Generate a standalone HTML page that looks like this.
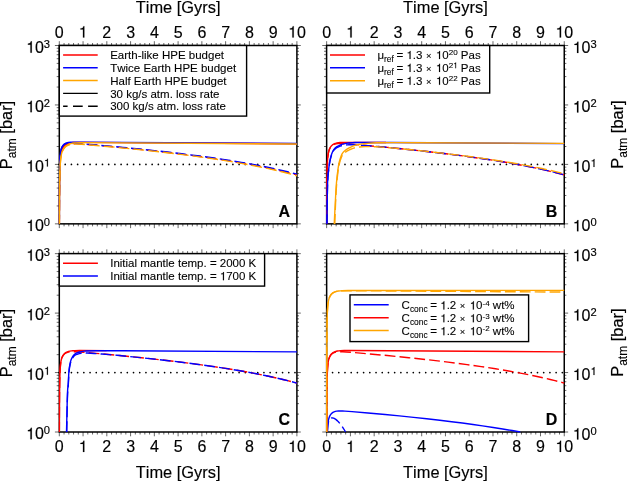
<!DOCTYPE html>
<html><head><meta charset="utf-8"><title>Atmospheric pressure evolution</title>
<style>html,body{margin:0;padding:0;background:#fff}body{width:628px;height:481px;overflow:hidden}svg text.lg{stroke-width:0.1px}svg text{white-space:pre;fill:#000;stroke:#000;stroke-width:0.15px;font-kerning:none;font-family:"Liberation Sans",sans-serif}</style>
</head><body>
<svg width="628" height="481" viewBox="0 0 628 481" style="display:block;will-change:transform">
<rect width="628" height="481" fill="#fff"/>
<path d="M64.05 45.5v-2.5 M64.05 223.85v2.5 M68.8 45.5v-2.5 M68.8 223.85v2.5 M73.56 45.5v-2.5 M73.56 223.85v2.5 M78.31 45.5v-2.5 M78.31 223.85v2.5 M87.81 45.5v-2.5 M87.81 223.85v2.5 M92.56 45.5v-2.5 M92.56 223.85v2.5 M97.32 45.5v-2.5 M97.32 223.85v2.5 M102.07 45.5v-2.5 M102.07 223.85v2.5 M111.57 45.5v-2.5 M111.57 223.85v2.5 M116.32 45.5v-2.5 M116.32 223.85v2.5 M121.08 45.5v-2.5 M121.08 223.85v2.5 M125.83 45.5v-2.5 M125.83 223.85v2.5 M135.33 45.5v-2.5 M135.33 223.85v2.5 M140.08 45.5v-2.5 M140.08 223.85v2.5 M144.84 45.5v-2.5 M144.84 223.85v2.5 M149.59 45.5v-2.5 M149.59 223.85v2.5 M159.09 45.5v-2.5 M159.09 223.85v2.5 M163.84 45.5v-2.5 M163.84 223.85v2.5 M168.6 45.5v-2.5 M168.6 223.85v2.5 M173.35 45.5v-2.5 M173.35 223.85v2.5 M182.85 45.5v-2.5 M182.85 223.85v2.5 M187.6 45.5v-2.5 M187.6 223.85v2.5 M192.36 45.5v-2.5 M192.36 223.85v2.5 M197.11 45.5v-2.5 M197.11 223.85v2.5 M206.61 45.5v-2.5 M206.61 223.85v2.5 M211.36 45.5v-2.5 M211.36 223.85v2.5 M216.12 45.5v-2.5 M216.12 223.85v2.5 M220.87 45.5v-2.5 M220.87 223.85v2.5 M230.37 45.5v-2.5 M230.37 223.85v2.5 M235.12 45.5v-2.5 M235.12 223.85v2.5 M239.88 45.5v-2.5 M239.88 223.85v2.5 M244.63 45.5v-2.5 M244.63 223.85v2.5 M254.13 45.5v-2.5 M254.13 223.85v2.5 M258.88 45.5v-2.5 M258.88 223.85v2.5 M263.64 45.5v-2.5 M263.64 223.85v2.5 M268.39 45.5v-2.5 M268.39 223.85v2.5 M277.89 45.5v-2.5 M277.89 223.85v2.5 M282.64 45.5v-2.5 M282.64 223.85v2.5 M287.4 45.5v-2.5 M287.4 223.85v2.5 M292.15 45.5v-2.5 M292.15 223.85v2.5 M59.3 205.95h-2.6 M296.9 205.95h2.1 M59.3 195.49h-2.6 M296.9 195.49h2.1 M59.3 188.06h-2.6 M296.9 188.06h2.1 M59.3 182.3h-2.6 M296.9 182.3h2.1 M59.3 177.59h-2.6 M296.9 177.59h2.1 M59.3 173.61h-2.6 M296.9 173.61h2.1 M59.3 170.16h-2.6 M296.9 170.16h2.1 M59.3 167.12h-2.6 M296.9 167.12h2.1 M59.3 146.5h-2.6 M296.9 146.5h2.1 M59.3 136.04h-2.6 M296.9 136.04h2.1 M59.3 128.61h-2.6 M296.9 128.61h2.1 M59.3 122.85h-2.6 M296.9 122.85h2.1 M59.3 118.14h-2.6 M296.9 118.14h2.1 M59.3 114.16h-2.6 M296.9 114.16h2.1 M59.3 110.71h-2.6 M296.9 110.71h2.1 M59.3 107.67h-2.6 M296.9 107.67h2.1 M59.3 87.05h-2.6 M296.9 87.05h2.1 M59.3 76.59h-2.6 M296.9 76.59h2.1 M59.3 69.16h-2.6 M296.9 69.16h2.1 M59.3 63.4h-2.6 M296.9 63.4h2.1 M59.3 58.69h-2.6 M296.9 58.69h2.1 M59.3 54.71h-2.6 M296.9 54.71h2.1 M59.3 51.26h-2.6 M296.9 51.26h2.1 M59.3 48.22h-2.6 M296.9 48.22h2.1" stroke="#000" stroke-width="0.6" fill="none"/>
<path d="M59.3 45.5v-4.3 M59.3 223.85v4.3 M83.06 45.5v-4.3 M83.06 223.85v4.3 M106.82 45.5v-4.3 M106.82 223.85v4.3 M130.58 45.5v-4.3 M130.58 223.85v4.3 M154.34 45.5v-4.3 M154.34 223.85v4.3 M178.1 45.5v-4.3 M178.1 223.85v4.3 M201.86 45.5v-4.3 M201.86 223.85v4.3 M225.62 45.5v-4.3 M225.62 223.85v4.3 M249.38 45.5v-4.3 M249.38 223.85v4.3 M273.14 45.5v-4.3 M273.14 223.85v4.3 M296.9 45.5v-4.3 M296.9 223.85v4.3 M59.3 223.85h-4.4 M296.9 223.85h3.9000000000000004 M59.3 164.4h-4.4 M296.9 164.4h3.9000000000000004 M59.3 104.95h-4.4 M296.9 104.95h3.9000000000000004 M59.3 45.5h-4.4 M296.9 45.5h3.9000000000000004" stroke="#000" stroke-width="0.6" fill="none"/>
<rect x="59.3" y="45.5" width="237.6" height="178.35" fill="none" stroke="#000" stroke-width="1.5"/>
<line x1="59" y1="164.4" x2="296.9" y2="164.4" stroke="#000" stroke-width="1.7" stroke-dasharray="0.01 6.2" stroke-linecap="round"/>
<clipPath id="clip00"><rect x="58.6" y="45.5" width="239.0" height="179.05"/></clipPath>
<g clip-path="url(#clip00)" fill="none" stroke-width="1.4" stroke-linejoin="round">
<path d="M59.35 223.85 L59.44 196.36 L59.63 177.7 L59.78 170.75 L59.97 164.9 L60.2 160.29 L60.54 156.31 L60.92 153.49 L61.39 151.22 L62.01 149.29 L62.39 148.4 L62.82 147.58 L63.29 146.83 L63.81 146.14 L64.38 145.52 L64.95 145 L65.57 144.54 L66.29 144.11 L67.05 143.74 L67.85 143.43 L68.95 143.11 L70.13 142.87 L71.42 142.69 L73.08 142.53 L76.88 142.38 L82.82 142.34 L296.9 143.73" stroke="#ff0000"/>
<path d="M59.35 223.85 L59.44 196.45 L59.54 184.89 L59.68 175.11 L59.82 169.13 L60.01 163.92 L60.25 159.72 L60.58 156.03 L61.01 153.14 L61.53 150.92 L61.87 149.91 L62.2 149.09 L62.63 148.23 L63.05 147.52 L63.58 146.8 L64.1 146.21 L64.72 145.65 L65.38 145.16 L66.1 144.75 L66.86 144.41 L67.66 144.14 L68.57 143.91 L70.37 143.66 L72.61 143.56 L75.46 143.61 L79.02 143.82 L85.44 144.31 L95.89 145.2 L119.89 147.4 L141.51 149.56 L161.71 151.75 L180.71 153.99 L199.72 156.45 L213.98 158.47 L228.23 160.65 L241.3 162.83 L254.37 165.2 L266.25 167.57 L276.94 169.91 L282.88 171.31 L287.63 172.48 L296.9 174.93" stroke="#ff0000" stroke-dasharray="10.8 4.1" stroke-dashoffset="1.74"/>
<path d="M59.33 223.85 L59.4 197.91 L59.59 173.82 L59.82 163.01 L60.01 158.5 L60.25 155.01 L60.54 152.4 L60.92 150.21 L61.44 148.33 L61.77 147.47 L62.1 146.77 L62.53 146.03 L62.96 145.42 L63.43 144.86 L63.96 144.35 L64.53 143.91 L65.1 143.55 L65.76 143.22 L66.48 142.95 L67.33 142.7 L68.33 142.5 L70.7 142.23 L73.79 142.11 L79.02 142.08 L296.9 143.5" stroke="#0000ff"/>
<path d="M59.33 223.85 L59.4 197.97 L59.59 173.89 L59.73 166.4 L59.87 161.76 L60.06 157.76 L60.3 154.6 L60.63 151.89 L61.01 149.97 L61.3 148.95 L61.58 148.15 L61.91 147.38 L62.29 146.68 L62.72 146.02 L63.2 145.44 L63.72 144.92 L64.24 144.5 L64.81 144.14 L65.48 143.82 L66.19 143.56 L67 143.36 L68.61 143.13 L70.66 143.06 L73.32 143.14 L76.88 143.37 L85.44 144.05 L98.74 145.19 L122.98 147.42 L143.89 149.5 L162.89 151.55 L181.9 153.78 L199.72 156.06 L213.98 158.04 L228.23 160.19 L241.3 162.33 L254.37 164.66 L266.25 166.98 L276.94 169.26 L287.63 171.76 L296.9 174.15" stroke="#0000ff" stroke-dasharray="10.8 4.1" stroke-dashoffset="1.31"/>
<path d="M59.36 223.85 L59.49 196.1 L59.73 178.43 L59.92 171.37 L60.16 165.82 L60.44 161.53 L60.82 157.85 L61.3 154.92 L61.58 153.64 L61.91 152.44 L62.29 151.32 L62.67 150.39 L63.1 149.51 L63.62 148.61 L64.19 147.78 L64.76 147.08 L65.43 146.4 L66.14 145.78 L66.9 145.24 L67.71 144.77 L68.61 144.34 L69.56 143.98 L70.89 143.6 L72.37 143.29 L74.03 143.05 L75.69 142.89 L80.21 142.68 L87.34 142.62 L296.9 143.97" stroke="#ffa500"/>
<path d="M59.36 223.85 L59.49 196.21 L59.63 183.76 L59.78 176.46 L59.97 170.19 L60.2 165.12 L60.49 161.15 L60.87 157.7 L61.11 156.16 L61.39 154.7 L61.72 153.36 L62.06 152.28 L62.44 151.27 L62.91 150.24 L63.39 149.38 L63.96 148.53 L64.57 147.77 L65.24 147.09 L65.95 146.49 L66.71 145.98 L67.52 145.54 L68.42 145.15 L69.42 144.82 L70.47 144.57 L72.61 144.27 L74.98 144.14 L77.83 144.16 L81.4 144.32 L86.39 144.67 L93.51 145.26 L115.37 147.25 L139.13 149.62 L160.52 151.95 L180.71 154.36 L199.72 156.85 L213.98 158.9 L228.23 161.12 L241.3 163.33 L254.37 165.76 L266.25 168.18 L276.94 170.58 L282.88 172.01 L287.63 173.22 L296.9 175.74" stroke="#ffa500" stroke-dasharray="10.8 4.1" stroke-dashoffset="2.01"/>
</g>
<rect x="59.3" y="45.5" width="187.3" height="70.6" fill="#fff" stroke="#000" stroke-width="1.4"/>
<line x1="63.1" y1="55" x2="97.7" y2="55" stroke="#ff0000" stroke-width="1.5"/>
<text x="110.20" y="59.14" font-size="11.5" xml:space="preserve" class="lg">Earth-like HPE budget</text>
<line x1="63.1" y1="67.8" x2="97.7" y2="67.8" stroke="#0000ff" stroke-width="1.5"/>
<text x="110.20" y="71.94" font-size="11.5" xml:space="preserve" class="lg">Twice Earth HPE budget</text>
<line x1="63.1" y1="80.6" x2="97.7" y2="80.6" stroke="#ffa500" stroke-width="1.5"/>
<text x="110.20" y="84.74" font-size="11.5" xml:space="preserve" class="lg">Half Earth HPE budget</text>
<line x1="63.1" y1="93.4" x2="97.7" y2="93.4" stroke="#000" stroke-width="1.15"/>
<text x="110.20" y="97.54" font-size="11.5" xml:space="preserve" class="lg">30 kg/s atm. loss rate</text>
<line x1="63.1" y1="106.2" x2="97.7" y2="106.2" stroke="#000" stroke-width="1.5" stroke-dasharray="9.7 5.4" stroke-dashoffset="5.2"/>
<text x="110.20" y="110.34" font-size="11.5" xml:space="preserve" class="lg">300 kg/s atm. loss rate</text>
<text x="54.85" y="37.50" font-size="16" xml:space="preserve">0</text>
<path d="M359 0V709H301C270 599 250 584 113 567V504H271V0Z" stroke="#000" stroke-width="9.4" transform="translate(78.61 37.50) scale(0.01600 -0.01600)"/>
<text x="102.37" y="37.50" font-size="16" xml:space="preserve">2</text>
<text x="126.13" y="37.50" font-size="16" xml:space="preserve">3</text>
<text x="149.89" y="37.50" font-size="16" xml:space="preserve">4</text>
<text x="173.65" y="37.50" font-size="16" xml:space="preserve">5</text>
<text x="197.41" y="37.50" font-size="16" xml:space="preserve">6</text>
<text x="221.17" y="37.50" font-size="16" xml:space="preserve">7</text>
<text x="244.93" y="37.50" font-size="16" xml:space="preserve">8</text>
<text x="268.69" y="37.50" font-size="16" xml:space="preserve">9</text>
<path d="M359 0V709H301C270 599 250 584 113 567V504H271V0Z" stroke="#000" stroke-width="9.4" transform="translate(288.00 37.50) scale(0.01600 -0.01600)"/>
<text x="296.90" y="37.50" font-size="16" xml:space="preserve">0</text>
<text x="178.1" y="12.5" font-size="16.4" text-anchor="middle">Time [Gyrs]</text>
<path d="M359 0V709H301C270 599 250 584 113 567V504H271V0Z" stroke="#000" stroke-width="9.4" transform="translate(26.07 231.05) scale(0.01600 -0.01600)"/>
<text x="34.97" y="231.05" font-size="16" xml:space="preserve">0</text>
<text x="43.87" y="226.05" font-size="11.2" xml:space="preserve">0</text>
<path d="M359 0V709H301C270 599 250 584 113 567V504H271V0Z" stroke="#000" stroke-width="9.4" transform="translate(26.07 171.60) scale(0.01600 -0.01600)"/>
<text x="34.97" y="171.60" font-size="16" xml:space="preserve">0</text>
<path d="M359 0V709H301C270 599 250 584 113 567V504H271V0Z" stroke="#000" stroke-width="13.4" transform="translate(43.87 166.60) scale(0.01120 -0.01120)"/>
<path d="M359 0V709H301C270 599 250 584 113 567V504H271V0Z" stroke="#000" stroke-width="9.4" transform="translate(26.07 112.15) scale(0.01600 -0.01600)"/>
<text x="34.97" y="112.15" font-size="16" xml:space="preserve">0</text>
<text x="43.87" y="107.15" font-size="11.2" xml:space="preserve">2</text>
<path d="M359 0V709H301C270 599 250 584 113 567V504H271V0Z" stroke="#000" stroke-width="9.4" transform="translate(26.07 52.70) scale(0.01600 -0.01600)"/>
<text x="34.97" y="52.70" font-size="16" xml:space="preserve">0</text>
<text x="43.87" y="47.70" font-size="11.2" xml:space="preserve">3</text>
<text transform="translate(11.6 134.98) rotate(-90)" font-size="16.4" text-anchor="middle">P<tspan font-size="12" dy="4">atm</tspan><tspan dy="-4"> [bar]</tspan></text>
<text x="278.5" y="217.1" font-size="16" font-weight="bold">A</text>
<path d="M331.4 45.5v-2.5 M331.4 223.85v2.5 M336.15 45.5v-2.5 M336.15 223.85v2.5 M340.91 45.5v-2.5 M340.91 223.85v2.5 M345.66 45.5v-2.5 M345.66 223.85v2.5 M355.16 45.5v-2.5 M355.16 223.85v2.5 M359.91 45.5v-2.5 M359.91 223.85v2.5 M364.67 45.5v-2.5 M364.67 223.85v2.5 M369.42 45.5v-2.5 M369.42 223.85v2.5 M378.92 45.5v-2.5 M378.92 223.85v2.5 M383.67 45.5v-2.5 M383.67 223.85v2.5 M388.43 45.5v-2.5 M388.43 223.85v2.5 M393.18 45.5v-2.5 M393.18 223.85v2.5 M402.68 45.5v-2.5 M402.68 223.85v2.5 M407.43 45.5v-2.5 M407.43 223.85v2.5 M412.19 45.5v-2.5 M412.19 223.85v2.5 M416.94 45.5v-2.5 M416.94 223.85v2.5 M426.44 45.5v-2.5 M426.44 223.85v2.5 M431.19 45.5v-2.5 M431.19 223.85v2.5 M435.95 45.5v-2.5 M435.95 223.85v2.5 M440.7 45.5v-2.5 M440.7 223.85v2.5 M450.2 45.5v-2.5 M450.2 223.85v2.5 M454.95 45.5v-2.5 M454.95 223.85v2.5 M459.71 45.5v-2.5 M459.71 223.85v2.5 M464.46 45.5v-2.5 M464.46 223.85v2.5 M473.96 45.5v-2.5 M473.96 223.85v2.5 M478.71 45.5v-2.5 M478.71 223.85v2.5 M483.47 45.5v-2.5 M483.47 223.85v2.5 M488.22 45.5v-2.5 M488.22 223.85v2.5 M497.72 45.5v-2.5 M497.72 223.85v2.5 M502.47 45.5v-2.5 M502.47 223.85v2.5 M507.23 45.5v-2.5 M507.23 223.85v2.5 M511.98 45.5v-2.5 M511.98 223.85v2.5 M521.48 45.5v-2.5 M521.48 223.85v2.5 M526.23 45.5v-2.5 M526.23 223.85v2.5 M530.99 45.5v-2.5 M530.99 223.85v2.5 M535.74 45.5v-2.5 M535.74 223.85v2.5 M545.24 45.5v-2.5 M545.24 223.85v2.5 M549.99 45.5v-2.5 M549.99 223.85v2.5 M554.75 45.5v-2.5 M554.75 223.85v2.5 M559.5 45.5v-2.5 M559.5 223.85v2.5 M326.65 205.95h-2.6 M564.25 205.95h2.1 M326.65 195.49h-2.6 M564.25 195.49h2.1 M326.65 188.06h-2.6 M564.25 188.06h2.1 M326.65 182.3h-2.6 M564.25 182.3h2.1 M326.65 177.59h-2.6 M564.25 177.59h2.1 M326.65 173.61h-2.6 M564.25 173.61h2.1 M326.65 170.16h-2.6 M564.25 170.16h2.1 M326.65 167.12h-2.6 M564.25 167.12h2.1 M326.65 146.5h-2.6 M564.25 146.5h2.1 M326.65 136.04h-2.6 M564.25 136.04h2.1 M326.65 128.61h-2.6 M564.25 128.61h2.1 M326.65 122.85h-2.6 M564.25 122.85h2.1 M326.65 118.14h-2.6 M564.25 118.14h2.1 M326.65 114.16h-2.6 M564.25 114.16h2.1 M326.65 110.71h-2.6 M564.25 110.71h2.1 M326.65 107.67h-2.6 M564.25 107.67h2.1 M326.65 87.05h-2.6 M564.25 87.05h2.1 M326.65 76.59h-2.6 M564.25 76.59h2.1 M326.65 69.16h-2.6 M564.25 69.16h2.1 M326.65 63.4h-2.6 M564.25 63.4h2.1 M326.65 58.69h-2.6 M564.25 58.69h2.1 M326.65 54.71h-2.6 M564.25 54.71h2.1 M326.65 51.26h-2.6 M564.25 51.26h2.1 M326.65 48.22h-2.6 M564.25 48.22h2.1" stroke="#000" stroke-width="0.6" fill="none"/>
<path d="M326.65 45.5v-4.3 M326.65 223.85v4.3 M350.41 45.5v-4.3 M350.41 223.85v4.3 M374.17 45.5v-4.3 M374.17 223.85v4.3 M397.93 45.5v-4.3 M397.93 223.85v4.3 M421.69 45.5v-4.3 M421.69 223.85v4.3 M445.45 45.5v-4.3 M445.45 223.85v4.3 M469.21 45.5v-4.3 M469.21 223.85v4.3 M492.97 45.5v-4.3 M492.97 223.85v4.3 M516.73 45.5v-4.3 M516.73 223.85v4.3 M540.49 45.5v-4.3 M540.49 223.85v4.3 M564.25 45.5v-4.3 M564.25 223.85v4.3 M326.65 223.85h-4.4 M564.25 223.85h3.9000000000000004 M326.65 164.4h-4.4 M564.25 164.4h3.9000000000000004 M326.65 104.95h-4.4 M564.25 104.95h3.9000000000000004 M326.65 45.5h-4.4 M564.25 45.5h3.9000000000000004" stroke="#000" stroke-width="0.6" fill="none"/>
<rect x="326.65" y="45.5" width="237.6" height="178.35" fill="none" stroke="#000" stroke-width="1.5"/>
<line x1="326.35" y1="164.4" x2="564.25" y2="164.4" stroke="#000" stroke-width="1.7" stroke-dasharray="0.01 6.2" stroke-linecap="round"/>
<clipPath id="clip10"><rect x="325.95" y="45.5" width="239.0" height="179.05"/></clipPath>
<g clip-path="url(#clip10)" fill="none" stroke-width="1.4" stroke-linejoin="round">
<path d="M326.7 223.85 L326.79 196.36 L326.94 180.89 L327.17 169.02 L327.46 161.89 L327.65 158.94 L327.89 156.31 L328.17 154.08 L328.55 152.01 L328.98 150.38 L329.45 149.05 L330.07 147.75 L330.78 146.63 L331.54 145.71 L332.4 144.93 L333.35 144.27 L334.4 143.74 L335.54 143.32 L336.87 142.99 L338.39 142.73 L340.19 142.55 L343.76 142.39 L349.22 142.34 L386.05 142.55" stroke="#ff0000"/>
<path d="M326.7 223.85 L326.79 196.45 L326.89 184.89 L327.03 175.11 L327.17 169.13 L327.36 163.92 L327.6 159.72 L327.93 156.03 L328.36 153.14 L328.88 150.92 L329.22 149.91 L329.55 149.09 L329.98 148.23 L330.4 147.52 L330.93 146.8 L331.45 146.21 L332.07 145.65 L332.73 145.16 L333.45 144.75 L334.21 144.41 L335.01 144.14 L335.92 143.91 L337.72 143.66 L339.96 143.56 L342.81 143.61 L346.37 143.82 L352.79 144.31 L363.24 145.2 L387.24 147.4 L408.86 149.56 L429.06 151.75 L448.06 153.99 L467.07 156.45 L481.33 158.47 L495.58 160.65 L508.65 162.83 L521.72 165.2 L533.6 167.57 L544.29 169.91 L550.23 171.31 L554.98 172.48 L564.25 174.93" stroke="#ff0000" stroke-dasharray="10.8 4.1" stroke-dashoffset="8.24"/>
<path d="M326.9 223.85 L327.36 192.45 L327.6 182.29 L327.89 177.29 L328.22 173.34 L329.07 165.99 L329.74 161.62 L330.55 157.89 L331.02 156.13 L331.5 154.6 L332.07 152.97 L332.59 151.69 L333.02 150.83 L333.68 149.78 L334.35 148.89 L335.01 148.14 L335.73 147.48 L336.49 146.91 L337.48 146.3 L339.01 145.53 L340.43 144.88 L341.62 144.42 L343.76 143.85 L346.13 143.37 L348.98 143.01 L352.31 142.69 L355.16 142.56 L368.23 142.47 L389.85 142.5 L564.25 143.65" stroke="#0000ff"/>
<path d="M326.91 223.85 L327.36 192.89 L327.6 182.69 L327.89 177.72 L328.27 173.34 L329.12 166.15 L329.5 163.54 L329.83 161.68 L330.26 159.67 L330.74 157.76 L331.26 155.98 L331.83 154.29 L332.35 152.93 L332.83 151.9 L333.3 151.1 L333.97 150.17 L334.63 149.38 L335.35 148.68 L336.06 148.13 L336.87 147.63 L338.05 147.05 L340.19 146.17 L341.38 145.77 L342.33 145.54 L344.71 145.13 L346.85 144.91 L350.65 144.75 L353.74 144.75 L355.4 144.82 L363.48 145.4 L376.78 146.47 L386.29 147.32 L396.74 148.33 L420.74 150.82 L442.12 153.27 L452.82 154.59 L462.32 155.82 L477.76 157.95 L492.02 160.09 L506.28 162.42 L519.34 164.76 L531.22 167.08 L537.16 168.33 L543.1 169.64 L549.04 171.02 L553.8 172.18 L558.55 173.4 L564.25 174.93" stroke="#0000ff" stroke-dasharray="10.8 4.1" stroke-dashoffset="1.27"/>
<path d="M334.22 223.85 L335.68 194.93 L336.06 188.43 L336.44 183.18 L337.15 175.86 L337.91 169.64 L338.53 165.69 L339.01 163.26 L339.48 161.2 L339.96 159.46 L340.43 157.97 L341.14 156.02 L341.62 154.87 L342.09 153.89 L342.57 153.1 L343.52 151.91 L344.23 151.21 L345.42 150.23 L346.61 149.37 L347.8 148.62 L349.22 147.82 L351.36 146.77 L352.79 146.13 L354.21 145.58 L356.11 145.02 L358.49 144.5 L360.86 144.11 L364.19 143.68 L367.52 143.36 L372.51 143.02 L376.31 142.81 L379.63 142.73 L395.55 142.67 L412.42 142.69 L564.25 143.37" stroke="#ffa500"/>
<path d="M334.78 223.85 L335.25 210.78 L335.68 200.48 L336.11 191.99 L336.49 186.25 L337.25 177.86 L338.01 171.38 L338.39 168.77 L338.77 166.56 L339.24 164.22 L339.72 162.26 L340.19 160.6 L340.67 159.16 L341.38 157.25 L341.86 156.17 L342.33 155.27 L342.81 154.58 L343.28 154 L343.99 153.27 L344.95 152.49 L346.13 151.64 L347.32 150.9 L348.51 150.27 L350.17 149.49 L352.31 148.59 L353.74 148.08 L355.16 147.69 L357.3 147.3 L359.44 147.02 L362.05 146.82 L365.14 146.67 L368.23 146.62 L373.22 146.67 L376.55 146.76 L379.4 146.92 L396.5 148.36 L413.61 150 L436.18 152.44 L456.38 154.84 L473.01 156.99 L488.46 159.17 L502.71 161.35 L516.97 163.74 L530.04 166.14 L541.92 168.54 L547.86 169.82 L553.8 171.18 L558.55 172.32 L564.25 173.75" stroke="#ffa500" stroke-dasharray="10.8 4.1" stroke-dashoffset="1.01"/>
</g>
<rect x="326.65" y="45.5" width="163.05" height="47.5" fill="#fff" stroke="#000" stroke-width="1.4"/>
<line x1="330" y1="54.9" x2="365" y2="54.9" stroke="#ff0000" stroke-width="1.5"/>
<text x="377.40" y="59.04" font-size="11.5" xml:space="preserve" class="lg">μ</text>
<text x="384.03" y="61.91" font-size="8.395" xml:space="preserve" class="lg">ref</text>
<text x="393.32" y="59.04" font-size="11.5" xml:space="preserve" class="lg"> = </text>
<path d="M359 0V709H301C270 599 250 584 113 567V504H271V0Z" stroke="#000" stroke-width="13.0" transform="translate(406.43 59.04) scale(0.01150 -0.01150)"/>
<text x="412.82" y="59.04" font-size="11.5" xml:space="preserve" class="lg">.3 </text>
<text x="425.91" y="59.04" font-size="9.43" xml:space="preserve" class="lg">×</text>
<path d="M359 0V709H301C270 599 250 584 113 567V504H271V0Z" stroke="#000" stroke-width="13.0" transform="translate(435.91 59.04) scale(0.01150 -0.01150)"/>
<text x="442.31" y="59.04" font-size="11.5" xml:space="preserve" class="lg">0</text>
<text x="448.70" y="55.24" font-size="8.05" xml:space="preserve" class="lg">20</text>
<text x="457.66" y="59.04" font-size="11.5" xml:space="preserve" class="lg"> Pas</text>
<line x1="330" y1="67.8" x2="365" y2="67.8" stroke="#0000ff" stroke-width="1.5"/>
<text x="377.40" y="71.94" font-size="11.5" xml:space="preserve" class="lg">μ</text>
<text x="384.03" y="74.81" font-size="8.395" xml:space="preserve" class="lg">ref</text>
<text x="393.32" y="71.94" font-size="11.5" xml:space="preserve" class="lg"> = </text>
<path d="M359 0V709H301C270 599 250 584 113 567V504H271V0Z" stroke="#000" stroke-width="13.0" transform="translate(406.43 71.94) scale(0.01150 -0.01150)"/>
<text x="412.82" y="71.94" font-size="11.5" xml:space="preserve" class="lg">.3 </text>
<text x="425.91" y="71.94" font-size="9.43" xml:space="preserve" class="lg">×</text>
<path d="M359 0V709H301C270 599 250 584 113 567V504H271V0Z" stroke="#000" stroke-width="13.0" transform="translate(435.91 71.94) scale(0.01150 -0.01150)"/>
<text x="442.31" y="71.94" font-size="11.5" xml:space="preserve" class="lg">0</text>
<text x="448.70" y="68.14" font-size="8.05" xml:space="preserve" class="lg">2</text>
<path d="M359 0V709H301C270 599 250 584 113 567V504H271V0Z" stroke="#000" stroke-width="18.6" transform="translate(453.18 68.14) scale(0.00805 -0.00805)"/>
<text x="457.66" y="71.94" font-size="11.5" xml:space="preserve" class="lg"> Pas</text>
<line x1="330" y1="80.7" x2="365" y2="80.7" stroke="#ffa500" stroke-width="1.5"/>
<text x="377.40" y="84.84" font-size="11.5" xml:space="preserve" class="lg">μ</text>
<text x="384.03" y="87.72" font-size="8.395" xml:space="preserve" class="lg">ref</text>
<text x="393.32" y="84.84" font-size="11.5" xml:space="preserve" class="lg"> = </text>
<path d="M359 0V709H301C270 599 250 584 113 567V504H271V0Z" stroke="#000" stroke-width="13.0" transform="translate(406.43 84.84) scale(0.01150 -0.01150)"/>
<text x="412.82" y="84.84" font-size="11.5" xml:space="preserve" class="lg">.3 </text>
<text x="425.91" y="84.84" font-size="9.43" xml:space="preserve" class="lg">×</text>
<path d="M359 0V709H301C270 599 250 584 113 567V504H271V0Z" stroke="#000" stroke-width="13.0" transform="translate(435.91 84.84) scale(0.01150 -0.01150)"/>
<text x="442.31" y="84.84" font-size="11.5" xml:space="preserve" class="lg">0</text>
<text x="448.70" y="81.05" font-size="8.05" xml:space="preserve" class="lg">22</text>
<text x="457.66" y="84.84" font-size="11.5" xml:space="preserve" class="lg"> Pas</text>
<text x="322.20" y="37.50" font-size="16" xml:space="preserve">0</text>
<path d="M359 0V709H301C270 599 250 584 113 567V504H271V0Z" stroke="#000" stroke-width="9.4" transform="translate(345.96 37.50) scale(0.01600 -0.01600)"/>
<text x="369.72" y="37.50" font-size="16" xml:space="preserve">2</text>
<text x="393.48" y="37.50" font-size="16" xml:space="preserve">3</text>
<text x="417.24" y="37.50" font-size="16" xml:space="preserve">4</text>
<text x="441.00" y="37.50" font-size="16" xml:space="preserve">5</text>
<text x="464.76" y="37.50" font-size="16" xml:space="preserve">6</text>
<text x="488.52" y="37.50" font-size="16" xml:space="preserve">7</text>
<text x="512.28" y="37.50" font-size="16" xml:space="preserve">8</text>
<text x="536.04" y="37.50" font-size="16" xml:space="preserve">9</text>
<path d="M359 0V709H301C270 599 250 584 113 567V504H271V0Z" stroke="#000" stroke-width="9.4" transform="translate(555.35 37.50) scale(0.01600 -0.01600)"/>
<text x="564.25" y="37.50" font-size="16" xml:space="preserve">0</text>
<text x="445.45" y="12.5" font-size="16.4" text-anchor="middle">Time [Gyrs]</text>
<path d="M359 0V709H301C270 599 250 584 113 567V504H271V0Z" stroke="#000" stroke-width="9.4" transform="translate(572.65 231.35) scale(0.01600 -0.01600)"/>
<text x="581.55" y="231.35" font-size="16" xml:space="preserve">0</text>
<text x="590.45" y="226.35" font-size="11.2" xml:space="preserve">0</text>
<path d="M359 0V709H301C270 599 250 584 113 567V504H271V0Z" stroke="#000" stroke-width="9.4" transform="translate(572.65 171.90) scale(0.01600 -0.01600)"/>
<text x="581.55" y="171.90" font-size="16" xml:space="preserve">0</text>
<path d="M359 0V709H301C270 599 250 584 113 567V504H271V0Z" stroke="#000" stroke-width="13.4" transform="translate(590.45 166.90) scale(0.01120 -0.01120)"/>
<path d="M359 0V709H301C270 599 250 584 113 567V504H271V0Z" stroke="#000" stroke-width="9.4" transform="translate(572.65 112.45) scale(0.01600 -0.01600)"/>
<text x="581.55" y="112.45" font-size="16" xml:space="preserve">0</text>
<text x="590.45" y="107.45" font-size="11.2" xml:space="preserve">2</text>
<path d="M359 0V709H301C270 599 250 584 113 567V504H271V0Z" stroke="#000" stroke-width="9.4" transform="translate(572.65 53.00) scale(0.01600 -0.01600)"/>
<text x="581.55" y="53.00" font-size="16" xml:space="preserve">0</text>
<text x="590.45" y="48.00" font-size="11.2" xml:space="preserve">3</text>
<text transform="translate(623.0 134.48) rotate(-90)" font-size="16.4" text-anchor="middle">P<tspan font-size="12" dy="4">atm</tspan><tspan dy="-4"> [bar]</tspan></text>
<text x="545.85" y="217.1" font-size="16" font-weight="bold">B</text>
<path d="M64.05 253.65v-2.5 M64.05 432v2.5 M68.8 253.65v-2.5 M68.8 432v2.5 M73.56 253.65v-2.5 M73.56 432v2.5 M78.31 253.65v-2.5 M78.31 432v2.5 M87.81 253.65v-2.5 M87.81 432v2.5 M92.56 253.65v-2.5 M92.56 432v2.5 M97.32 253.65v-2.5 M97.32 432v2.5 M102.07 253.65v-2.5 M102.07 432v2.5 M111.57 253.65v-2.5 M111.57 432v2.5 M116.32 253.65v-2.5 M116.32 432v2.5 M121.08 253.65v-2.5 M121.08 432v2.5 M125.83 253.65v-2.5 M125.83 432v2.5 M135.33 253.65v-2.5 M135.33 432v2.5 M140.08 253.65v-2.5 M140.08 432v2.5 M144.84 253.65v-2.5 M144.84 432v2.5 M149.59 253.65v-2.5 M149.59 432v2.5 M159.09 253.65v-2.5 M159.09 432v2.5 M163.84 253.65v-2.5 M163.84 432v2.5 M168.6 253.65v-2.5 M168.6 432v2.5 M173.35 253.65v-2.5 M173.35 432v2.5 M182.85 253.65v-2.5 M182.85 432v2.5 M187.6 253.65v-2.5 M187.6 432v2.5 M192.36 253.65v-2.5 M192.36 432v2.5 M197.11 253.65v-2.5 M197.11 432v2.5 M206.61 253.65v-2.5 M206.61 432v2.5 M211.36 253.65v-2.5 M211.36 432v2.5 M216.12 253.65v-2.5 M216.12 432v2.5 M220.87 253.65v-2.5 M220.87 432v2.5 M230.37 253.65v-2.5 M230.37 432v2.5 M235.12 253.65v-2.5 M235.12 432v2.5 M239.88 253.65v-2.5 M239.88 432v2.5 M244.63 253.65v-2.5 M244.63 432v2.5 M254.13 253.65v-2.5 M254.13 432v2.5 M258.88 253.65v-2.5 M258.88 432v2.5 M263.64 253.65v-2.5 M263.64 432v2.5 M268.39 253.65v-2.5 M268.39 432v2.5 M277.89 253.65v-2.5 M277.89 432v2.5 M282.64 253.65v-2.5 M282.64 432v2.5 M287.4 253.65v-2.5 M287.4 432v2.5 M292.15 253.65v-2.5 M292.15 432v2.5 M59.3 414.1h-2.6 M296.9 414.1h2.1 M59.3 403.64h-2.6 M296.9 403.64h2.1 M59.3 396.21h-2.6 M296.9 396.21h2.1 M59.3 390.45h-2.6 M296.9 390.45h2.1 M59.3 385.74h-2.6 M296.9 385.74h2.1 M59.3 381.76h-2.6 M296.9 381.76h2.1 M59.3 378.31h-2.6 M296.9 378.31h2.1 M59.3 375.27h-2.6 M296.9 375.27h2.1 M59.3 354.65h-2.6 M296.9 354.65h2.1 M59.3 344.19h-2.6 M296.9 344.19h2.1 M59.3 336.76h-2.6 M296.9 336.76h2.1 M59.3 331h-2.6 M296.9 331h2.1 M59.3 326.29h-2.6 M296.9 326.29h2.1 M59.3 322.31h-2.6 M296.9 322.31h2.1 M59.3 318.86h-2.6 M296.9 318.86h2.1 M59.3 315.82h-2.6 M296.9 315.82h2.1 M59.3 295.2h-2.6 M296.9 295.2h2.1 M59.3 284.74h-2.6 M296.9 284.74h2.1 M59.3 277.31h-2.6 M296.9 277.31h2.1 M59.3 271.55h-2.6 M296.9 271.55h2.1 M59.3 266.84h-2.6 M296.9 266.84h2.1 M59.3 262.86h-2.6 M296.9 262.86h2.1 M59.3 259.41h-2.6 M296.9 259.41h2.1 M59.3 256.37h-2.6 M296.9 256.37h2.1" stroke="#000" stroke-width="0.6" fill="none"/>
<path d="M59.3 253.65v-4.3 M59.3 432v4.3 M83.06 253.65v-4.3 M83.06 432v4.3 M106.82 253.65v-4.3 M106.82 432v4.3 M130.58 253.65v-4.3 M130.58 432v4.3 M154.34 253.65v-4.3 M154.34 432v4.3 M178.1 253.65v-4.3 M178.1 432v4.3 M201.86 253.65v-4.3 M201.86 432v4.3 M225.62 253.65v-4.3 M225.62 432v4.3 M249.38 253.65v-4.3 M249.38 432v4.3 M273.14 253.65v-4.3 M273.14 432v4.3 M296.9 253.65v-4.3 M296.9 432v4.3 M59.3 432h-4.4 M296.9 432h3.9000000000000004 M59.3 372.55h-4.4 M296.9 372.55h3.9000000000000004 M59.3 313.1h-4.4 M296.9 313.1h3.9000000000000004 M59.3 253.65h-4.4 M296.9 253.65h3.9000000000000004" stroke="#000" stroke-width="0.6" fill="none"/>
<rect x="59.3" y="253.65" width="237.6" height="178.35" fill="none" stroke="#000" stroke-width="1.5"/>
<line x1="59" y1="372.55" x2="296.9" y2="372.55" stroke="#000" stroke-width="1.7" stroke-dasharray="0.01 6.2" stroke-linecap="round"/>
<clipPath id="clip01"><rect x="58.6" y="253.65" width="239.0" height="179.05"/></clipPath>
<g clip-path="url(#clip01)" fill="none" stroke-width="1.4" stroke-linejoin="round">
<path d="M59.35 432 L59.4 414.14 L59.54 392.96 L59.73 380.88 L60.01 371.95 L60.2 368.44 L60.39 365.92 L60.63 363.62 L60.96 361.36 L61.3 359.75 L61.72 358.23 L62.25 356.86 L62.86 355.65 L63.58 354.59 L64.34 353.71 L65.19 352.96 L66.19 352.31 L67.28 351.79 L68.47 351.39 L69.85 351.07 L71.42 350.84 L72.84 350.7 L74.74 350.59 L79.5 350.5 L106.58 350.63" stroke="#ff0000"/>
<path d="M59.35 432 L59.44 404.6 L59.54 393.04 L59.68 383.26 L59.82 377.28 L60.01 372.07 L60.25 367.87 L60.58 364.18 L61.01 361.29 L61.53 359.07 L61.87 358.06 L62.2 357.24 L62.63 356.38 L63.05 355.67 L63.58 354.95 L64.1 354.36 L64.72 353.8 L65.38 353.31 L66.1 352.9 L66.86 352.56 L67.66 352.29 L68.57 352.06 L70.37 351.81 L72.61 351.71 L75.46 351.76 L79.02 351.97 L85.44 352.46 L95.89 353.35 L119.89 355.55 L141.51 357.71 L161.71 359.9 L180.71 362.14 L199.72 364.6 L213.98 366.62 L228.23 368.8 L241.3 370.98 L254.37 373.35 L266.25 375.72 L276.94 378.06 L282.88 379.46 L287.63 380.63 L296.9 383.08" stroke="#ff0000" stroke-dasharray="10.8 4.1" stroke-dashoffset="0.62"/>
<path d="M66.51 432 L67.19 402.55 L67.52 391.94 L67.71 388.83 L68.14 384.7 L68.33 382.33 L68.8 372.86 L69.09 369.79 L69.42 367.11 L69.99 363.8 L70.61 361.25 L70.99 360.1 L71.42 359 L71.89 357.98 L72.37 357.11 L73.08 356 L73.56 355.35 L74.03 354.79 L74.51 354.33 L75.22 353.79 L76.17 353.21 L76.88 352.86 L77.83 352.5 L79.5 351.99 L81.4 351.57 L84.25 351.17 L86.39 350.98 L95.89 350.8 L108.25 350.7 L122.74 350.73 L296.9 351.88" stroke="#0000ff"/>
<path d="M66.75 432 L67.19 407.22 L67.38 399.37 L67.57 394.01 L67.76 391.05 L68.28 385.42 L68.8 374.55 L69.18 370.44 L69.61 367.28 L70.23 364 L70.56 362.69 L70.94 361.49 L71.42 360.25 L71.89 359.22 L72.37 358.36 L73.08 357.26 L73.79 356.34 L74.27 355.84 L74.74 355.46 L75.46 354.98 L76.17 354.6 L77.12 354.2 L79.26 353.63 L80.92 353.35 L82.82 353.18 L85.2 353.06 L87.1 353.07 L94.23 353.51 L101.83 354.04 L109.43 354.63 L117.04 355.29 L137.95 357.34 L159.33 359.63 L179.53 362 L198.53 364.44 L212.79 366.44 L227.05 368.61 L240.11 370.77 L253.18 373.13 L265.06 375.48 L271 376.74 L276.94 378.06 L282.88 379.46 L287.63 380.63 L296.9 383.08" stroke="#0000ff" stroke-dasharray="10.8 4.1" stroke-dashoffset="0.05"/>
</g>
<rect x="59.3" y="253.65" width="205.3" height="32.45" fill="#fff" stroke="#000" stroke-width="1.4"/>
<line x1="63" y1="263.2" x2="97.9" y2="263.2" stroke="#ff0000" stroke-width="1.5"/>
<text x="110.20" y="267.34" font-size="11.5" xml:space="preserve" class="lg">Initial mantle temp. = 2000 K</text>
<line x1="63" y1="276" x2="97.9" y2="276" stroke="#0000ff" stroke-width="1.5"/>
<text x="110.20" y="280.14" font-size="11.5" xml:space="preserve" class="lg">Initial mantle temp. = </text>
<path d="M359 0V709H301C270 599 250 584 113 567V504H271V0Z" stroke="#000" stroke-width="13.0" transform="translate(219.82 280.14) scale(0.01150 -0.01150)"/>
<text x="226.22" y="280.14" font-size="11.5" xml:space="preserve" class="lg">700 K</text>
<text x="54.85" y="452.00" font-size="16" xml:space="preserve">0</text>
<path d="M359 0V709H301C270 599 250 584 113 567V504H271V0Z" stroke="#000" stroke-width="9.4" transform="translate(78.61 452.00) scale(0.01600 -0.01600)"/>
<text x="102.37" y="452.00" font-size="16" xml:space="preserve">2</text>
<text x="126.13" y="452.00" font-size="16" xml:space="preserve">3</text>
<text x="149.89" y="452.00" font-size="16" xml:space="preserve">4</text>
<text x="173.65" y="452.00" font-size="16" xml:space="preserve">5</text>
<text x="197.41" y="452.00" font-size="16" xml:space="preserve">6</text>
<text x="221.17" y="452.00" font-size="16" xml:space="preserve">7</text>
<text x="244.93" y="452.00" font-size="16" xml:space="preserve">8</text>
<text x="268.69" y="452.00" font-size="16" xml:space="preserve">9</text>
<path d="M359 0V709H301C270 599 250 584 113 567V504H271V0Z" stroke="#000" stroke-width="9.4" transform="translate(288.00 452.00) scale(0.01600 -0.01600)"/>
<text x="296.90" y="452.00" font-size="16" xml:space="preserve">0</text>
<text x="178.1" y="477.6" font-size="16.4" text-anchor="middle">Time [Gyrs]</text>
<path d="M359 0V709H301C270 599 250 584 113 567V504H271V0Z" stroke="#000" stroke-width="9.4" transform="translate(26.07 439.20) scale(0.01600 -0.01600)"/>
<text x="34.97" y="439.20" font-size="16" xml:space="preserve">0</text>
<text x="43.87" y="434.20" font-size="11.2" xml:space="preserve">0</text>
<path d="M359 0V709H301C270 599 250 584 113 567V504H271V0Z" stroke="#000" stroke-width="9.4" transform="translate(26.07 379.75) scale(0.01600 -0.01600)"/>
<text x="34.97" y="379.75" font-size="16" xml:space="preserve">0</text>
<path d="M359 0V709H301C270 599 250 584 113 567V504H271V0Z" stroke="#000" stroke-width="13.4" transform="translate(43.87 374.75) scale(0.01120 -0.01120)"/>
<path d="M359 0V709H301C270 599 250 584 113 567V504H271V0Z" stroke="#000" stroke-width="9.4" transform="translate(26.07 320.30) scale(0.01600 -0.01600)"/>
<text x="34.97" y="320.30" font-size="16" xml:space="preserve">0</text>
<text x="43.87" y="315.30" font-size="11.2" xml:space="preserve">2</text>
<path d="M359 0V709H301C270 599 250 584 113 567V504H271V0Z" stroke="#000" stroke-width="9.4" transform="translate(26.07 260.85) scale(0.01600 -0.01600)"/>
<text x="34.97" y="260.85" font-size="16" xml:space="preserve">0</text>
<text x="43.87" y="255.85" font-size="11.2" xml:space="preserve">3</text>
<text transform="translate(11.6 343.12) rotate(-90)" font-size="16.4" text-anchor="middle">P<tspan font-size="12" dy="4">atm</tspan><tspan dy="-4"> [bar]</tspan></text>
<text x="278.5" y="425.25" font-size="16" font-weight="bold">C</text>
<path d="M331.4 253.65v-2.5 M331.4 432v2.5 M336.15 253.65v-2.5 M336.15 432v2.5 M340.91 253.65v-2.5 M340.91 432v2.5 M345.66 253.65v-2.5 M345.66 432v2.5 M355.16 253.65v-2.5 M355.16 432v2.5 M359.91 253.65v-2.5 M359.91 432v2.5 M364.67 253.65v-2.5 M364.67 432v2.5 M369.42 253.65v-2.5 M369.42 432v2.5 M378.92 253.65v-2.5 M378.92 432v2.5 M383.67 253.65v-2.5 M383.67 432v2.5 M388.43 253.65v-2.5 M388.43 432v2.5 M393.18 253.65v-2.5 M393.18 432v2.5 M402.68 253.65v-2.5 M402.68 432v2.5 M407.43 253.65v-2.5 M407.43 432v2.5 M412.19 253.65v-2.5 M412.19 432v2.5 M416.94 253.65v-2.5 M416.94 432v2.5 M426.44 253.65v-2.5 M426.44 432v2.5 M431.19 253.65v-2.5 M431.19 432v2.5 M435.95 253.65v-2.5 M435.95 432v2.5 M440.7 253.65v-2.5 M440.7 432v2.5 M450.2 253.65v-2.5 M450.2 432v2.5 M454.95 253.65v-2.5 M454.95 432v2.5 M459.71 253.65v-2.5 M459.71 432v2.5 M464.46 253.65v-2.5 M464.46 432v2.5 M473.96 253.65v-2.5 M473.96 432v2.5 M478.71 253.65v-2.5 M478.71 432v2.5 M483.47 253.65v-2.5 M483.47 432v2.5 M488.22 253.65v-2.5 M488.22 432v2.5 M497.72 253.65v-2.5 M497.72 432v2.5 M502.47 253.65v-2.5 M502.47 432v2.5 M507.23 253.65v-2.5 M507.23 432v2.5 M511.98 253.65v-2.5 M511.98 432v2.5 M521.48 253.65v-2.5 M521.48 432v2.5 M526.23 253.65v-2.5 M526.23 432v2.5 M530.99 253.65v-2.5 M530.99 432v2.5 M535.74 253.65v-2.5 M535.74 432v2.5 M545.24 253.65v-2.5 M545.24 432v2.5 M549.99 253.65v-2.5 M549.99 432v2.5 M554.75 253.65v-2.5 M554.75 432v2.5 M559.5 253.65v-2.5 M559.5 432v2.5 M326.65 414.1h-2.6 M564.25 414.1h2.1 M326.65 403.64h-2.6 M564.25 403.64h2.1 M326.65 396.21h-2.6 M564.25 396.21h2.1 M326.65 390.45h-2.6 M564.25 390.45h2.1 M326.65 385.74h-2.6 M564.25 385.74h2.1 M326.65 381.76h-2.6 M564.25 381.76h2.1 M326.65 378.31h-2.6 M564.25 378.31h2.1 M326.65 375.27h-2.6 M564.25 375.27h2.1 M326.65 354.65h-2.6 M564.25 354.65h2.1 M326.65 344.19h-2.6 M564.25 344.19h2.1 M326.65 336.76h-2.6 M564.25 336.76h2.1 M326.65 331h-2.6 M564.25 331h2.1 M326.65 326.29h-2.6 M564.25 326.29h2.1 M326.65 322.31h-2.6 M564.25 322.31h2.1 M326.65 318.86h-2.6 M564.25 318.86h2.1 M326.65 315.82h-2.6 M564.25 315.82h2.1 M326.65 295.2h-2.6 M564.25 295.2h2.1 M326.65 284.74h-2.6 M564.25 284.74h2.1 M326.65 277.31h-2.6 M564.25 277.31h2.1 M326.65 271.55h-2.6 M564.25 271.55h2.1 M326.65 266.84h-2.6 M564.25 266.84h2.1 M326.65 262.86h-2.6 M564.25 262.86h2.1 M326.65 259.41h-2.6 M564.25 259.41h2.1 M326.65 256.37h-2.6 M564.25 256.37h2.1" stroke="#000" stroke-width="0.6" fill="none"/>
<path d="M326.65 253.65v-4.3 M326.65 432v4.3 M350.41 253.65v-4.3 M350.41 432v4.3 M374.17 253.65v-4.3 M374.17 432v4.3 M397.93 253.65v-4.3 M397.93 432v4.3 M421.69 253.65v-4.3 M421.69 432v4.3 M445.45 253.65v-4.3 M445.45 432v4.3 M469.21 253.65v-4.3 M469.21 432v4.3 M492.97 253.65v-4.3 M492.97 432v4.3 M516.73 253.65v-4.3 M516.73 432v4.3 M540.49 253.65v-4.3 M540.49 432v4.3 M564.25 253.65v-4.3 M564.25 432v4.3 M326.65 432h-4.4 M564.25 432h3.9000000000000004 M326.65 372.55h-4.4 M564.25 372.55h3.9000000000000004 M326.65 313.1h-4.4 M564.25 313.1h3.9000000000000004 M326.65 253.65h-4.4 M564.25 253.65h3.9000000000000004" stroke="#000" stroke-width="0.6" fill="none"/>
<rect x="326.65" y="253.65" width="237.6" height="178.35" fill="none" stroke="#000" stroke-width="1.5"/>
<line x1="326.35" y1="372.55" x2="564.25" y2="372.55" stroke="#000" stroke-width="1.7" stroke-dasharray="0.01 6.2" stroke-linecap="round"/>
<clipPath id="clip11"><rect x="325.95" y="253.65" width="239.0" height="179.05"/></clipPath>
<g clip-path="url(#clip11)" fill="none" stroke-width="1.4" stroke-linejoin="round">
<path d="M327.33 432 L327.7 425.86 L327.93 423.42 L328.27 421.05 L328.65 419.19 L329.07 417.7 L329.6 416.37 L330.26 415.12 L331.02 414.07 L331.92 413.15 L332.92 412.42 L334.06 411.85 L335.35 411.42 L336.77 411.15 L338.43 410.98 L340.43 410.93 L342.57 410.98 L344.95 411.1 L352.07 411.62 L367.99 412.98 L385.1 414.54 L399.36 415.91 L413.61 417.36 L426.68 418.77 L439.75 420.26 L451.63 421.69 L462.32 423.05 L473.01 424.49 L482.52 425.83 L493.21 427.44 L502.71 428.95 L512.22 430.56 L520.22 432" stroke="#0000ff"/>
<path d="M327.39 432 L327.65 427.86 L327.93 425.03 L328.31 422.67 L328.74 421.04 L329.03 420.29 L329.36 419.63 L329.74 419.06 L330.12 418.65 L330.55 418.31 L331.02 418.07 L331.54 417.91 L332.11 417.86 L332.78 417.93 L333.45 418.11 L334.21 418.44 L334.97 418.86 L335.77 419.42 L336.63 420.11 L337.48 420.88 L338.39 421.79 L340.19 423.85 L342.09 426.37 L343.99 429.27 L345.57 432" stroke="#0000ff" stroke-dasharray="10.8 4.1"/>
<path d="M326.7 432 L326.79 404.51 L326.98 385.85 L327.13 378.9 L327.32 373.05 L327.55 368.44 L327.89 364.46 L328.27 361.64 L328.74 359.37 L329.36 357.44 L329.74 356.55 L330.17 355.73 L330.64 354.98 L331.16 354.29 L331.73 353.67 L332.3 353.15 L332.92 352.69 L333.64 352.26 L334.4 351.89 L335.2 351.58 L336.3 351.26 L337.48 351.02 L338.77 350.84 L340.43 350.68 L344.23 350.53 L350.17 350.49 L564.25 351.88" stroke="#ff0000"/>
<path d="M326.7 432 L326.79 404.6 L326.89 393.04 L327.03 383.26 L327.17 377.28 L327.36 372.07 L327.6 367.87 L327.93 364.18 L328.36 361.29 L328.88 359.07 L329.22 358.06 L329.55 357.24 L329.98 356.38 L330.4 355.67 L330.93 354.95 L331.45 354.36 L332.07 353.8 L332.73 353.31 L333.45 352.9 L334.21 352.56 L335.01 352.29 L335.92 352.06 L337.72 351.81 L339.96 351.71 L342.81 351.76 L346.37 351.97 L352.79 352.46 L363.24 353.35 L387.24 355.55 L408.86 357.71 L429.06 359.9 L448.06 362.14 L467.07 364.6 L481.33 366.62 L495.58 368.8 L508.65 370.98 L521.72 373.35 L533.6 375.72 L544.29 378.06 L550.23 379.46 L554.98 380.63 L564.25 383.08" stroke="#ff0000" stroke-dasharray="10.8 4.1" stroke-dashoffset="1.59"/>
<path d="M326.65 432 L326.7 371.41 L326.79 344.73 L326.89 333.18 L327.03 323.39 L327.22 315.86 L327.41 311.17 L327.7 306.7 L328.03 303.46 L328.46 300.82 L328.74 299.58 L329.03 298.58 L329.36 297.64 L329.79 296.65 L330.26 295.77 L330.78 294.97 L331.35 294.26 L331.97 293.63 L332.64 293.07 L333.35 292.6 L334.4 292.06 L335.54 291.64 L336.87 291.29 L338.39 291.03 L340.19 290.83 L342.09 290.71 L348.03 290.57 L564.25 290.36" stroke="#ffa500"/>
<path d="M326.65 432 L326.7 371.42 L326.79 344.74 L326.89 333.18 L327.03 323.4 L327.22 315.87 L327.41 311.18 L327.7 306.71 L328.03 303.47 L328.46 300.84 L328.74 299.6 L329.03 298.61 L329.36 297.66 L329.79 296.68 L330.26 295.8 L330.78 295.01 L331.35 294.3 L331.97 293.67 L332.64 293.12 L333.4 292.62 L334.44 292.1 L335.63 291.67 L336.96 291.35 L338.48 291.1 L340.19 290.93 L342.33 290.81 L348.27 290.72 L373.69 290.85 L564.25 292.09" stroke="#ffa500" stroke-dasharray="10.8 4.1"/>
</g>
<rect x="350" y="294.9" width="178.6" height="46.7" fill="#fff" stroke="#000" stroke-width="1.4"/>
<line x1="353.8" y1="304.8" x2="388.7" y2="304.8" stroke="#0000ff" stroke-width="1.5"/>
<text x="401.60" y="309.44" font-size="11.5" xml:space="preserve" class="lg">C</text>
<text x="409.90" y="312.31" font-size="8.395" xml:space="preserve" class="lg">conc</text>
<text x="427.14" y="309.44" font-size="11.5" xml:space="preserve" class="lg"> = </text>
<path d="M359 0V709H301C270 599 250 584 113 567V504H271V0Z" stroke="#000" stroke-width="13.0" transform="translate(440.24 309.44) scale(0.01150 -0.01150)"/>
<text x="446.64" y="309.44" font-size="11.5" xml:space="preserve" class="lg">.2 </text>
<text x="459.73" y="309.44" font-size="9.43" xml:space="preserve" class="lg">×</text>
<path d="M359 0V709H301C270 599 250 584 113 567V504H271V0Z" stroke="#000" stroke-width="13.0" transform="translate(469.73 309.44) scale(0.01150 -0.01150)"/>
<text x="476.12" y="309.44" font-size="11.5" xml:space="preserve" class="lg">0</text>
<text x="482.52" y="305.64" font-size="8.05" xml:space="preserve" class="lg">-4</text>
<text x="489.68" y="309.44" font-size="11.5" xml:space="preserve" class="lg"> wt%</text>
<line x1="353.8" y1="317.65" x2="388.7" y2="317.65" stroke="#ff0000" stroke-width="1.5"/>
<text x="401.60" y="322.29" font-size="11.5" xml:space="preserve" class="lg">C</text>
<text x="409.90" y="325.17" font-size="8.395" xml:space="preserve" class="lg">conc</text>
<text x="427.14" y="322.29" font-size="11.5" xml:space="preserve" class="lg"> = </text>
<path d="M359 0V709H301C270 599 250 584 113 567V504H271V0Z" stroke="#000" stroke-width="13.0" transform="translate(440.24 322.29) scale(0.01150 -0.01150)"/>
<text x="446.64" y="322.29" font-size="11.5" xml:space="preserve" class="lg">.2 </text>
<text x="459.73" y="322.29" font-size="9.43" xml:space="preserve" class="lg">×</text>
<path d="M359 0V709H301C270 599 250 584 113 567V504H271V0Z" stroke="#000" stroke-width="13.0" transform="translate(469.73 322.29) scale(0.01150 -0.01150)"/>
<text x="476.12" y="322.29" font-size="11.5" xml:space="preserve" class="lg">0</text>
<text x="482.52" y="318.50" font-size="8.05" xml:space="preserve" class="lg">-3</text>
<text x="489.68" y="322.29" font-size="11.5" xml:space="preserve" class="lg"> wt%</text>
<line x1="353.8" y1="330.5" x2="388.7" y2="330.5" stroke="#ffa500" stroke-width="1.5"/>
<text x="401.60" y="335.14" font-size="11.5" xml:space="preserve" class="lg">C</text>
<text x="409.90" y="338.01" font-size="8.395" xml:space="preserve" class="lg">conc</text>
<text x="427.14" y="335.14" font-size="11.5" xml:space="preserve" class="lg"> = </text>
<path d="M359 0V709H301C270 599 250 584 113 567V504H271V0Z" stroke="#000" stroke-width="13.0" transform="translate(440.24 335.14) scale(0.01150 -0.01150)"/>
<text x="446.64" y="335.14" font-size="11.5" xml:space="preserve" class="lg">.2 </text>
<text x="459.73" y="335.14" font-size="9.43" xml:space="preserve" class="lg">×</text>
<path d="M359 0V709H301C270 599 250 584 113 567V504H271V0Z" stroke="#000" stroke-width="13.0" transform="translate(469.73 335.14) scale(0.01150 -0.01150)"/>
<text x="476.12" y="335.14" font-size="11.5" xml:space="preserve" class="lg">0</text>
<text x="482.52" y="331.34" font-size="8.05" xml:space="preserve" class="lg">-2</text>
<text x="489.68" y="335.14" font-size="11.5" xml:space="preserve" class="lg"> wt%</text>
<text x="322.20" y="452.00" font-size="16" xml:space="preserve">0</text>
<path d="M359 0V709H301C270 599 250 584 113 567V504H271V0Z" stroke="#000" stroke-width="9.4" transform="translate(345.96 452.00) scale(0.01600 -0.01600)"/>
<text x="369.72" y="452.00" font-size="16" xml:space="preserve">2</text>
<text x="393.48" y="452.00" font-size="16" xml:space="preserve">3</text>
<text x="417.24" y="452.00" font-size="16" xml:space="preserve">4</text>
<text x="441.00" y="452.00" font-size="16" xml:space="preserve">5</text>
<text x="464.76" y="452.00" font-size="16" xml:space="preserve">6</text>
<text x="488.52" y="452.00" font-size="16" xml:space="preserve">7</text>
<text x="512.28" y="452.00" font-size="16" xml:space="preserve">8</text>
<text x="536.04" y="452.00" font-size="16" xml:space="preserve">9</text>
<path d="M359 0V709H301C270 599 250 584 113 567V504H271V0Z" stroke="#000" stroke-width="9.4" transform="translate(555.35 452.00) scale(0.01600 -0.01600)"/>
<text x="564.25" y="452.00" font-size="16" xml:space="preserve">0</text>
<text x="445.45" y="477.6" font-size="16.4" text-anchor="middle">Time [Gyrs]</text>
<path d="M359 0V709H301C270 599 250 584 113 567V504H271V0Z" stroke="#000" stroke-width="9.4" transform="translate(572.65 439.50) scale(0.01600 -0.01600)"/>
<text x="581.55" y="439.50" font-size="16" xml:space="preserve">0</text>
<text x="590.45" y="434.50" font-size="11.2" xml:space="preserve">0</text>
<path d="M359 0V709H301C270 599 250 584 113 567V504H271V0Z" stroke="#000" stroke-width="9.4" transform="translate(572.65 380.05) scale(0.01600 -0.01600)"/>
<text x="581.55" y="380.05" font-size="16" xml:space="preserve">0</text>
<path d="M359 0V709H301C270 599 250 584 113 567V504H271V0Z" stroke="#000" stroke-width="13.4" transform="translate(590.45 375.05) scale(0.01120 -0.01120)"/>
<path d="M359 0V709H301C270 599 250 584 113 567V504H271V0Z" stroke="#000" stroke-width="9.4" transform="translate(572.65 320.60) scale(0.01600 -0.01600)"/>
<text x="581.55" y="320.60" font-size="16" xml:space="preserve">0</text>
<text x="590.45" y="315.60" font-size="11.2" xml:space="preserve">2</text>
<path d="M359 0V709H301C270 599 250 584 113 567V504H271V0Z" stroke="#000" stroke-width="9.4" transform="translate(572.65 261.15) scale(0.01600 -0.01600)"/>
<text x="581.55" y="261.15" font-size="16" xml:space="preserve">0</text>
<text x="590.45" y="256.15" font-size="11.2" xml:space="preserve">3</text>
<text transform="translate(623.0 342.62) rotate(-90)" font-size="16.4" text-anchor="middle">P<tspan font-size="12" dy="4">atm</tspan><tspan dy="-4"> [bar]</tspan></text>
<text x="545.85" y="425.25" font-size="16" font-weight="bold">D</text>
</svg>
</body></html>
